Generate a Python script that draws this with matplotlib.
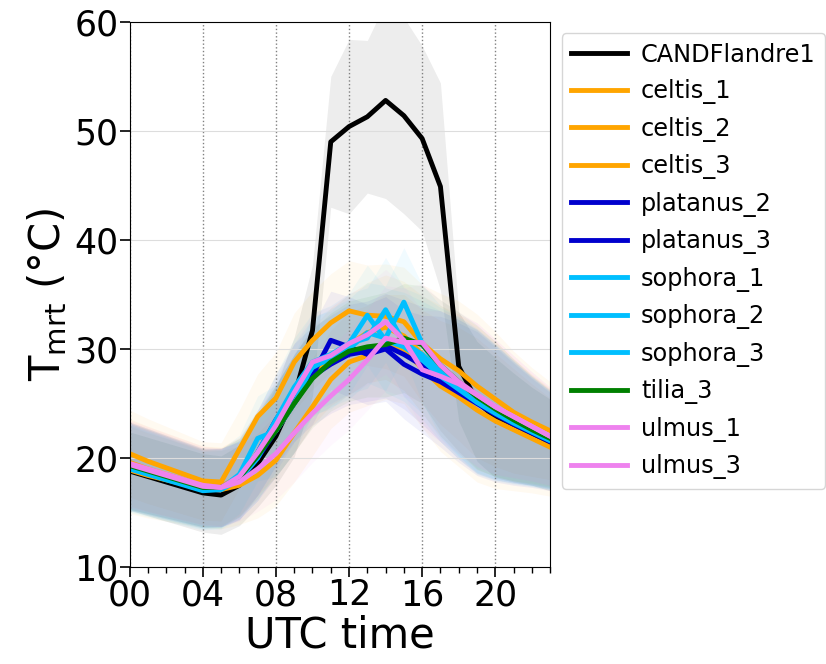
import numpy as np
import matplotlib
matplotlib.use("Agg")
import matplotlib.pyplot as plt

hours = list(range(24))

names = ["CANDFlandre1", "celtis_1", "celtis_2", "celtis_3", "platanus_2", "platanus_3",
         "sophora_1", "sophora_2", "sophora_3", "tilia_3", "ulmus_1", "ulmus_3"]
colors = ["black", "orange", "orange", "orange", "mediumblue", "mediumblue",
          "deepskyblue", "deepskyblue", "deepskyblue", "green", "violet", "violet"]

# hourly mean Tmrt (degC)
cand = [18.8, 18.3, 17.8, 17.3, 16.8, 16.6, 17.5, 19.5, 22.0, 25.6, 31.7, 49.0,
        50.4, 51.3, 52.8, 51.4, 49.3, 44.9, 28.4, 25.2, 23.7, 22.8, 22.0, 21.2]
celtis_1 = [20.4, 19.7, 19.1, 18.5, 17.9, 17.8, 20.8, 23.8, 25.5, 28.8, 30.8, 32.4,
            33.5, 33.1, 33.0, 32.5, 30.5, 29.1, 28.0, 26.6, 25.4, 24.2, 23.3, 22.5]
celtis_2 = [18.9, 18.4, 18.0, 17.6, 17.2, 17.1, 17.5, 18.4, 19.8, 22.3, 24.7, 27.2,
            28.8, 29.4, 30.2, 30.0, 28.2, 26.6, 25.6, 24.4, 23.4, 22.6, 21.8, 21.0]
celtis_3 = [19.6, 19.0, 18.5, 18.0, 17.5, 17.4, 18.3, 20.5, 22.5, 25.0, 27.5, 29.3,
            30.4, 31.5, 32.0, 31.2, 29.5, 28.0, 26.8, 25.5, 24.5, 23.5, 22.7, 21.9]
platanus_2 = [19.2, 18.7, 18.2, 17.7, 17.2, 17.3, 17.9, 20.5, 23.5, 26.0, 27.6, 30.8,
              30.2, 29.5, 30.0, 28.6, 27.7, 27.0, 26.0, 25.0, 24.0, 23.1, 22.3, 21.5]
platanus_3 = [19.3, 18.8, 18.3, 17.8, 17.3, 17.3, 18.0, 20.0, 22.5, 25.0, 27.5, 28.6,
              29.5, 29.8, 30.3, 29.5, 28.5, 27.5, 26.3, 25.2, 24.2, 23.3, 22.5, 21.7]
sophora_1 = [19.2, 18.7, 18.2, 17.7, 17.2, 17.2, 18.5, 21.8, 22.5, 25.0, 28.5, 29.0,
             30.5, 33.1, 30.8, 30.2, 29.0, 27.5, 26.3, 25.1, 24.1, 23.2, 22.4, 21.6]
sophora_2 = [19.1, 18.6, 18.1, 17.6, 17.1, 17.2, 18.2, 20.5, 23.5, 26.5, 28.8, 29.5,
             30.5, 31.0, 33.6, 30.6, 29.5, 27.8, 26.5, 25.2, 24.2, 23.3, 22.4, 21.6]
sophora_3 = [19.0, 18.5, 18.0, 17.5, 17.0, 17.1, 18.0, 20.0, 23.0, 26.0, 28.3, 29.2,
             30.0, 31.5, 31.0, 34.3, 30.5, 28.0, 26.6, 25.3, 24.3, 23.4, 22.5, 21.7]
tilia_3 = [19.3, 18.8, 18.3, 17.8, 17.3, 17.3, 18.2, 20.2, 22.5, 25.0, 27.3, 28.8,
           29.8, 30.2, 30.4, 31.0, 30.4, 28.5, 27.0, 25.6, 24.5, 23.5, 22.6, 21.8]
ulmus_1 = [19.5, 19.0, 18.5, 18.0, 17.5, 17.3, 18.3, 20.5, 23.0, 26.0, 28.8, 29.4,
           30.5, 31.3, 32.5, 30.8, 28.1, 27.5, 26.8, 25.8, 24.7, 23.8, 22.9, 22.0]
ulmus_3 = [19.4, 18.9, 18.4, 17.9, 17.4, 17.3, 17.8, 19.0, 20.4, 22.3, 24.1, 25.7,
           27.2, 29.0, 31.0, 30.6, 30.6, 28.5, 27.0, 25.8, 24.7, 23.8, 22.9, 22.0]
series = [cand, celtis_1, celtis_2, celtis_3, platanus_2, platanus_3,
          sophora_1, sophora_2, sophora_3, tilia_3, ulmus_1, ulmus_3]

# spread (+/-) of the shaded envelopes
cand_spread = [3.6, 3.6, 3.6, 3.6, 3.6, 3.6, 3.7, 4.0, 4.5, 5.5, 6.0, 6.0,
               8.0, 7.0, 9.0, 9.0, 8.5, 9.5, 5.0, 5.5, 5.5, 5.0, 4.5, 4.2]
tree_spread = [4.0, 3.9, 3.8, 3.7, 3.6, 3.6, 3.6, 3.9, 4.2, 4.5, 4.5, 4.5,
               4.6, 4.6, 4.8, 5.0, 5.4, 6.0, 6.4, 6.6, 6.2, 5.6, 5.0, 4.5]

fig = plt.figure(figsize=(8.26, 6.64), dpi=100)
ax = fig.add_axes([0.157, 0.146, 0.509, 0.821])

x = np.array(hours)
for i, (c, ys) in enumerate(zip(colors, series)):
    ys = np.array(ys)
    sp = np.array(cand_spread if i == 0 else tree_spread)
    ax.fill_between(x, ys - sp, ys + sp, color=c, alpha=0.07 if i == 0 else 0.055, lw=0)
for n, c, ys in zip(names, colors, series):
    ax.plot(x, ys, color=c, lw=3.5, label=n)

ax.set_xlim(0, 23)
ax.set_ylim(10, 60)
ax.set_xticks(range(0, 24, 4))
ax.set_xticklabels([f"{h:02d}" for h in range(0, 24, 4)])
ax.set_xticks(hours, minor=True)
ax.set_yticks(range(10, 61, 10))
ax.tick_params(labelsize=25, length=7, width=1.2, pad=1)
ax.tick_params(which="minor", length=4, width=1.0)
ax.grid(axis="x", ls=":", color="gray", lw=1)
ax.grid(axis="y", ls="-", color="#dddddd", lw=0.8)
ax.set_xlabel("UTC time", fontsize=30, labelpad=2)
ax.set_ylabel(r"T$_{\rm mrt}$ (°C)", fontsize=30, labelpad=4)

fig.legend(loc="upper left", bbox_to_anchor=(0.680, 0.950), fontsize=17.3,
           handlelength=2.3, handletextpad=0.6, labelspacing=0.52,
           borderaxespad=0, frameon=True)

fig.savefig("out.png", dpi=100)
